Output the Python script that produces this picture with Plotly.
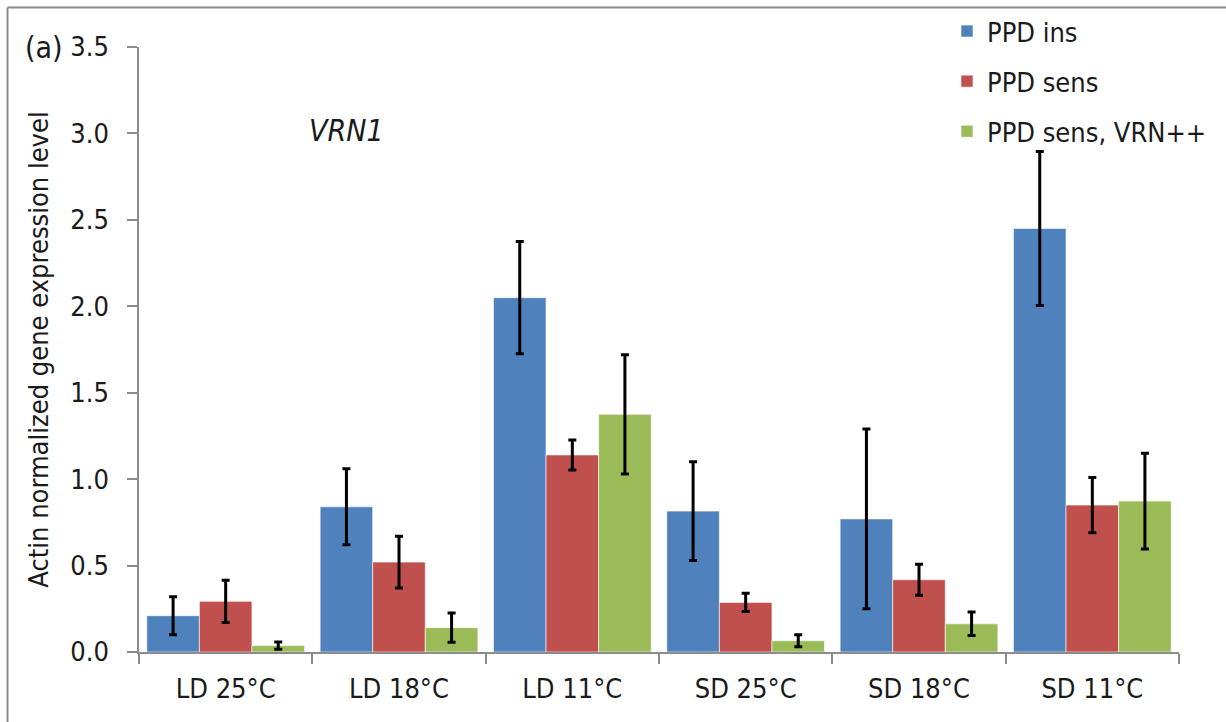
import plotly.graph_objects as go

categories = ["LD 25°C", "LD 18°C", "LD 11°C", "SD 25°C", "SD 18°C", "SD 11°C"]
series_names = ["PPD ins", "PPD sens", "PPD sens, VRN++"]
ppd_ins = [0.21, 0.84, 2.05, 0.815, 0.77, 2.45]
ppd_ins_err = [0.11, 0.22, 0.325, 0.285, 0.52, 0.445]
ppd_sens = [0.293, 0.52, 1.14, 0.287, 0.418, 0.85]
ppd_sens_err = [0.122, 0.15, 0.087, 0.053, 0.09, 0.16]
ppd_vrn = [0.037, 0.141, 1.375, 0.065, 0.163, 0.873]
ppd_vrn_err = [0.021, 0.085, 0.345, 0.035, 0.068, 0.277]
y_ticks = [0.0, 0.5, 1.0, 1.5, 2.0, 2.5, 3.0, 3.5]

colors = ["#4F81BD", "#C0504D", "#9BBB59"]
FONT = "Liberation Sans Narrow, DejaVu Sans Condensed, Arial Narrow, sans-serif"
TXT = "#1a1a1a"

fig = go.Figure()
for i, (name, vals, errs) in enumerate(zip(series_names,
                                           [ppd_ins, ppd_sens, ppd_vrn],
                                           [ppd_ins_err, ppd_sens_err, ppd_vrn_err])):
    fig.add_trace(go.Bar(
        x=categories, y=vals, name=name, legendgroup=name,
        marker=dict(color=colors[i], line=dict(color="rgba(255,255,255,0.6)", width=1)),
        error_y=dict(type="data", array=errs, visible=True, color="black",
                     thickness=3, width=4),
    ))

L, R, T, B = 139, 47, 47, 70
W, H = 1226, 722
pw, ph = W - L - R, H - T - B

def px_to_paper(x, y):
    return (x - L) / pw, (H - B - y) / ph

gray = "#8c8c8c"
fig.update_layout(
    width=W, height=H,
    margin=dict(l=L, r=R, t=T, b=B, pad=0, autoexpand=False),
    paper_bgcolor="white", plot_bgcolor="white",
    barmode="group", bargap=0.09, bargroupgap=0,
    font=dict(family=FONT, size=26, color=TXT),
    showlegend=True,
    legend=dict(xref="container", yref="container",
                x=947 / W, y=1 - 7 / H,
                xanchor="left", yanchor="top",
                traceorder="grouped", tracegroupgap=12,
                font=dict(family=FONT, size=27, color=TXT),
                bgcolor="rgba(0,0,0,0)", itemwidth=30),
    xaxis=dict(showline=True, linecolor=gray, linewidth=1.5, automargin=False,
               ticks="outside", tickson="boundaries", ticklen=10,
               tickcolor=gray, tickwidth=1.5, ticklabelstandoff=12,
               tickfont=dict(family=FONT, size=27, color=TXT),
               showgrid=False, zeroline=False),
    yaxis=dict(range=[0, 3.5], tickvals=y_ticks, automargin=False,
               ticktext=[f"{v:.1f}" for v in y_ticks],
               showline=True, linecolor=gray, linewidth=1.5,
               ticks="outside", ticklen=10, tickcolor=gray, tickwidth=1.5,
               ticklabelstandoff=13,
               tickfont=dict(family=FONT, size=27, color=TXT),
               showgrid=False, zeroline=False,
               title=dict(text="Actin normalized gene expression level",
                          font=dict(family=FONT, size=27, color=TXT), standoff=14)),
)

# (a) label and VRN1 annotation
ax, ay = px_to_paper(44, 47)
fig.add_annotation(x=ax, y=ay, xref="paper", yref="paper", text="(a)",
                   showarrow=False, xanchor="center", yanchor="middle",
                   font=dict(family=FONT, size=30, color=TXT))
vx, vy = px_to_paper(346, 130)
fig.add_annotation(x=vx, y=vy, xref="paper", yref="paper", text="<i>VRN1</i>",
                   showarrow=False, xanchor="center", yanchor="middle",
                   font=dict(family=FONT, size=30, color=TXT))

# outer frame (top and left edges)
x0, y0 = px_to_paper(7.5, 7.5)
x1, _ = px_to_paper(W + 2, 0)
_, y1 = px_to_paper(0, H + 2)
fig.add_shape(type="line", xref="paper", yref="paper", x0=x0, y0=y0, x1=x1, y1=y0,
              line=dict(color="#8a8a8a", width=2))
fig.add_shape(type="line", xref="paper", yref="paper", x0=x0, y0=y0, x1=x0, y1=y1,
              line=dict(color="#8a8a8a", width=2))

fig.write_html("out.html")
